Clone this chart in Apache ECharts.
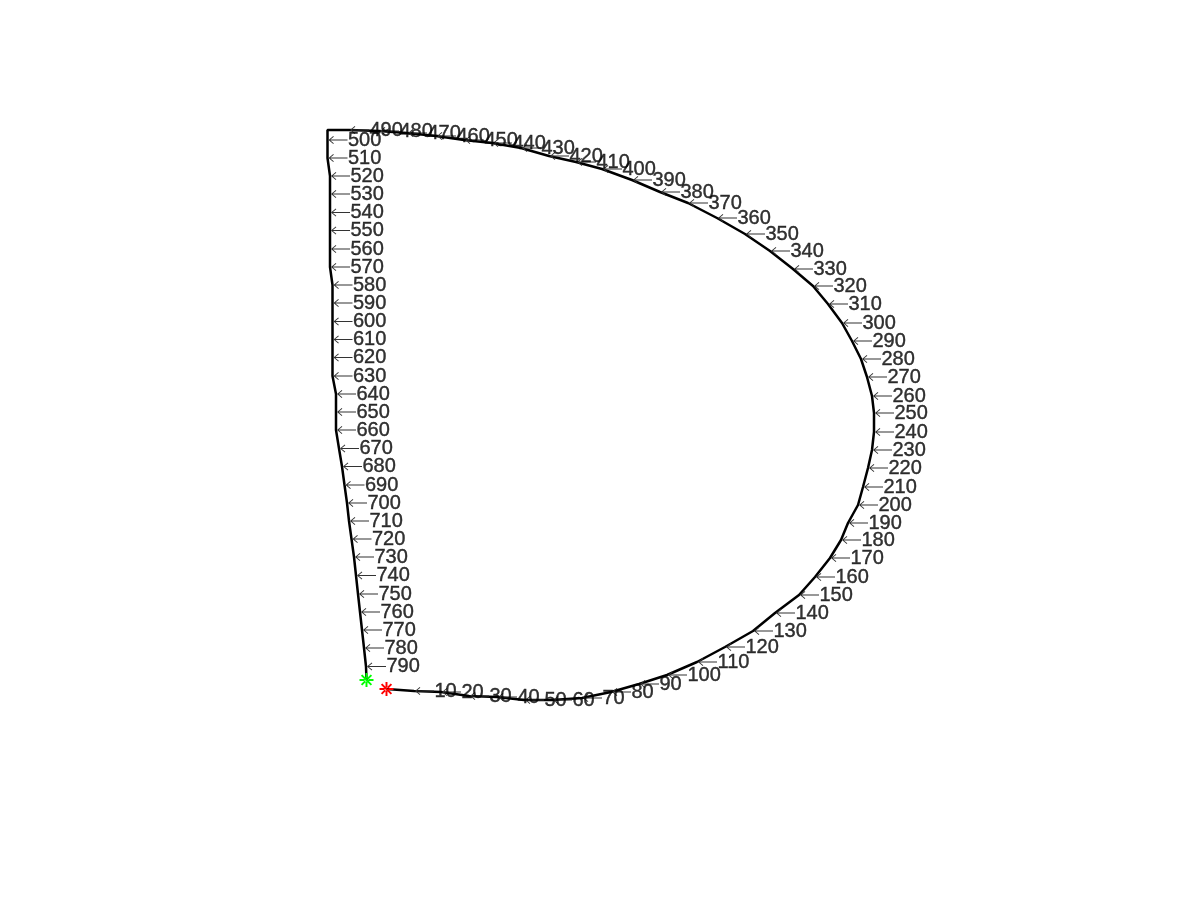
<!DOCTYPE html>
<html>
<head>
<meta charset="utf-8">
<script src="https://cdn.jsdelivr.net/npm/echarts@6/dist/echarts.min.js"></script>
<style>
  html, body { margin: 0; padding: 0; background: #fff; }
  #main { width: 1200px; height: 900px; }
</style>
</head>
<body>
<div id="main"></div>
<script>
// step numbers written along the path (every 10 steps)
const stepNums = [
  10, 20, 30, 40, 50, 60, 70, 80, 90, 100,
  110, 120, 130, 140, 150, 160, 170, 180, 190, 200,
  210, 220, 230, 240, 250, 260, 270, 280, 290, 300,
  310, 320, 330, 340, 350, 360, 370, 380, 390, 400,
  410, 420, 430, 440, 450, 460, 470, 480, 490,
  500, 510, 520, 530, 540, 550, 560, 570, 580, 590,
  600, 610, 620, 630, 640, 650, 660, 670, 680, 690,
  700, 710, 720, 730, 740, 750, 760, 770, 780, 790
];
// positions of those steps
const stepX = [
  414, 441, 469, 497, 524, 552, 582, 611, 639, 667,
  697, 725, 753, 775, 799, 815, 830, 841, 848, 858,
  863, 868, 872, 874, 874, 872, 867, 861, 852, 842,
  828, 813, 793, 770, 745, 717, 688, 660, 632, 602,
  576, 549, 521, 492, 464, 436, 407, 379, 349,
  327.5, 327.5, 330, 330, 330, 330, 330, 330, 332.5, 332.5,
  332.5, 332.5, 332.5, 332.5, 336, 336, 336, 339, 342, 344.5,
  347, 349, 351.5, 354, 356, 358, 360, 362, 364, 366
];
const stepY = [
  691, 692, 696, 697, 700, 700, 698, 692, 684, 675,
  662, 647, 631, 613, 595, 577, 558, 540, 523, 505,
  487, 468, 450, 432, 413, 396, 377, 359, 341, 323,
  304, 286, 269, 251, 234, 218, 203, 192, 180, 169,
  162, 156, 148, 143, 140, 136, 133, 131, 130,
  140, 158, 176, 194, 212.5, 230.5, 249, 267, 285, 303,
  321.5, 339.5, 357.5, 376, 394, 412, 430, 448.5, 466.5, 485,
  503, 521, 539, 557, 575.5, 594, 612, 630, 648, 666.5
];
const startPt = [386.5, 689];
const goalPt = [366.5, 680];
const cornerPt = [327.5, 130];

// full path: start -> steps -> top-left corner -> steps -> goal
const pathData = [startPt];
stepNums.forEach((n, i) => {
  pathData.push([stepX[i], stepY[i]]);
  if (n === 490) pathData.push(cornerPt);
});
pathData.push(goalPt);

const labelData = stepNums.map((n, i) => ({ value: [stepX[i], stepY[i]], num: n }));

// asterisk marker like matlab '*'
const star = 'path://M-0.14,-1L0.14,-1L0.14,1L-0.14,1Z' +
  'M-1,-0.14L1,-0.14L1,0.14L-1,0.14Z' +
  'M-0.8,-0.6L-0.6,-0.8L0.8,0.6L0.6,0.8Z' +
  'M-0.8,0.6L-0.6,0.8L0.8,-0.6L0.6,-0.8Z';

// thin left arrow (\leftarrow), tip at the left end
const arrow = 'path://M0,4L5,0.3L5.6,1L2,3.6L20,3.6L20,4.4L2,4.4L5.6,7L5,7.7Z';

const chart = echarts.init(document.getElementById('main'));

const option = {
  animation: false,
  backgroundColor: '#fff',
  grid: { left: 0, right: 0, top: 0, bottom: 0 },
  xAxis: { type: 'value', min: 0, max: 1200, show: false },
  yAxis: { type: 'value', min: 0, max: 900, inverse: true, show: false },
  series: [
    {
      name: 'path',
      type: 'line',
      data: pathData,
      showSymbol: false,
      lineStyle: { color: '#000', width: 2.5 },
      z: 2
    },
    {
      name: 'arrows',
      type: 'scatter',
      data: labelData,
      symbol: arrow,
      symbolSize: [19, 8],
      symbolOffset: [10.5, 0],
      itemStyle: { color: '#333', opacity: 1 },
      z: 3
    },
    {
      name: 'steps',
      type: 'scatter',
      data: labelData,
      symbolSize: 1,
      itemStyle: { color: 'rgba(0,0,0,0)' },
      label: {
        show: true,
        position: 'right',
        distance: 20,
        fontFamily: 'Liberation Sans',
        fontSize: 20,
        color: '#000',
        textBorderColor: '#000',
        textBorderWidth: 0.4,
        formatter: p => String(p.data.num)
      },
      z: 3
    },
    {
      name: 'start',
      type: 'scatter',
      data: [startPt],
      symbol: star,
      symbolSize: 14,
      itemStyle: { color: '#ff0000', opacity: 1 },
      z: 4
    },
    {
      name: 'goal',
      type: 'scatter',
      data: [goalPt],
      symbol: star,
      symbolSize: 14,
      itemStyle: { color: '#00ff00', opacity: 1 },
      z: 4
    }
  ]
};

chart.setOption(option);
</script>
</body>
</html>
